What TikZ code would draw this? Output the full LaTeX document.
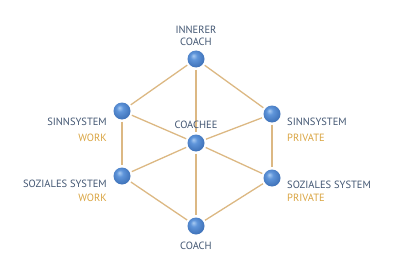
\documentclass[tikz,border=0pt]{standalone}
\usepackage{fontspec}
\setmainfont{PT Sans}
\definecolor{linea}{HTML}{DCB883}
\definecolor{testo}{HTML}{425672}
\definecolor{arancio}{HTML}{D9A441}
\definecolor{chiaro}{HTML}{A9CBF2}
\definecolor{medio}{HTML}{5F95DA}
\definecolor{scuro}{HTML}{3C6FB6}
\pgfdeclareradialshading{sfera}{\pgfpoint{-8bp}{10bp}}{color(0bp)=(chiaro); color(10bp)=(medio); color(30bp)=(scuro); color(50bp)=(scuro)}
\tikzset{
  punto/.style={circle, inner sep=0pt, minimum size=17pt, shading=sfera},
  nome/.style={font=\fontsize{10.5}{12.5}\selectfont, text=testo, inner sep=0pt},
  ambito/.style={font=\fontsize{10.5}{12.5}\selectfont, text=arancio, inner sep=0pt},
  ramo/.style={draw=linea, line width=1.3pt, shorten <=2pt, shorten >=2pt}
}
\begin{document}
\begin{tikzpicture}[x=1pt, y=-1pt]

        % 1. Area dell'immagine
        \useasboundingbox (0,0) rectangle (401,278);

        % 2. Punti del grafo
        \node[punto] (interno) at (196,59) {};
        \node[punto] (sinnW) at (122,111) {};
        \node[punto] (sinnP) at (272,114) {};
        \node[punto] (coachee) at (196,143) {};
        \node[punto] (sozW) at (122,176) {};
        \node[punto] (sozP) at (272,178) {};
        \node[punto] (coach) at (196,226) {};

        % 3. Collegamenti
        \foreach \a/\b in {interno/sinnW, interno/sinnP, interno/coachee,
                           sinnW/coachee, sinnP/coachee, sinnW/sozW, sinnP/sozP,
                           coachee/sozW, coachee/sozP, coachee/coach,
                           sozW/coach, sozP/coach}
          \draw[ramo] (\a) -- (\b);

        % 4. Etichette
        \node[nome, align=center] (tInterno) at (196,36) {INNERER\\COACH};
        \node[nome] (tCoachee) at (196,125) {COACHEE};
        \node[nome] (tCoach) at (196,246) {COACH};
        \node[nome, anchor=east] (tSinnW) at (107,122) {SINNSYSTEM};
        \node[ambito, anchor=east] (aSinnW) at (107,138) {WORK};
        \node[nome, anchor=east] (tSozW) at (107,184) {SOZIALES SYSTEM};
        \node[ambito, anchor=east] (aSozW) at (107,198) {WORK};
        \node[nome, anchor=west] (tSinnP) at (287,122) {SINNSYSTEM};
        \node[ambito, anchor=west] (aSinnP) at (287,138) {PRIVATE};
        \node[nome, anchor=west] (tSozP) at (287,185) {SOZIALES SYSTEM};
        \node[ambito, anchor=west] (aSozP) at (287,198) {PRIVATE};

    \end{tikzpicture}
\end{document}
